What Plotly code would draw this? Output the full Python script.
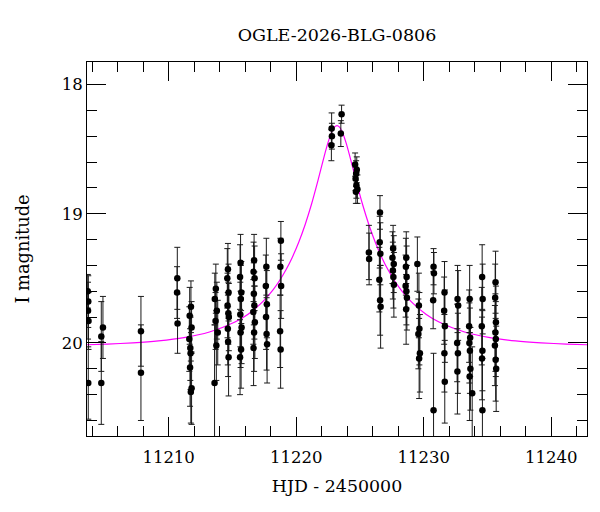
import plotly.graph_objects as go

# ---- observed photometry (HJD-2450000, I mag, error) ----
hjd = [
    11203.66, 11203.70, 11203.68, 11203.72, 11203.70,
    11204.85, 11204.72, 11204.72,
    11207.83, 11207.83,
    11210.68, 11210.66, 11210.70,
    11211.75, 11211.65, 11211.80, 11211.62, 11211.70, 11211.72, 11211.68, 11211.80, 11211.74,
    11213.70, 11213.62, 11213.78, 11213.68, 11213.85, 11213.74, 11213.60,
    11214.65, 11214.60, 11214.70, 11214.62, 11214.68, 11214.72, 11214.64, 11214.66, 11214.70,
    11215.64, 11215.60, 11215.70, 11215.66, 11215.62, 11215.72, 11215.64, 11215.68, 11215.60,
    11216.70, 11216.66, 11216.74, 11216.68, 11216.72, 11216.64, 11216.76, 11216.70, 11216.66,
    11217.66, 11217.62, 11217.70, 11217.64, 11217.68, 11217.72,
    11218.80, 11218.76, 11218.82, 11218.74, 11218.78,
    11222.78, 11222.80, 11222.76,
    11223.56, 11223.50,
    11224.62, 11224.75, 11224.70, 11224.66, 11224.72, 11224.80, 11224.68,
    11225.70, 11225.72,
    11226.57, 11226.55, 11226.60, 11226.52, 11226.58, 11226.62,
    11227.60, 11227.55, 11227.65, 11227.58, 11227.62, 11227.66,
    11228.63, 11228.60, 11228.66, 11228.58, 11228.64, 11228.68, 11228.62,
    11229.50, 11229.62, 11229.66, 11229.58, 11229.70, 11229.64,
    11230.77, 11230.80, 11230.74, 11230.77,
    11231.63, 11231.60, 11231.66, 11231.62, 11231.65,
    11232.65, 11232.70, 11232.62, 11232.68, 11232.64,
    11233.60, 11233.56, 11233.64, 11233.58, 11233.62, 11233.66, 11233.60, 11233.80,
    11234.58, 11234.62, 11234.55, 11234.60, 11234.57, 11234.60,
    11235.63, 11235.60, 11235.66, 11235.62, 11235.65, 11235.58, 11235.64, 11235.68,
]
imag = [
    19.60, 19.68, 19.75, 19.83, 20.31,
    19.88, 19.95, 20.31,
    19.91, 20.23,
    19.50, 19.61, 19.85,
    19.72, 19.79, 19.88, 19.97, 20.04, 20.08, 20.19, 20.35, 20.38,
    19.58, 19.66, 19.75, 19.83, 19.92, 20.02, 20.31,
    19.43, 19.50, 19.61, 19.71, 19.77, 19.80, 19.89, 19.99, 20.11,
    19.38, 19.49, 19.61, 19.66, 19.78, 19.88, 19.92, 20.05, 20.11,
    19.36, 19.45, 19.50, 19.62, 19.71, 19.76, 19.84, 19.92, 20.04,
    19.41, 19.56, 19.70, 19.80, 19.93, 20.01,
    19.21, 19.41, 19.56, 19.91, 20.05,
    18.34, 18.40, 18.47,
    18.23, 18.38,
    18.62, 18.66, 18.69, 18.73, 18.78, 18.81, 18.83,
    19.30, 19.35,
    18.99, 19.22, 19.31, 19.51, 19.67, 19.72,
    19.27, 19.34, 19.39, 19.44, 19.49, 19.55,
    19.34, 19.41, 19.49, 19.56, 19.60, 19.65, 19.74,
    19.39, 19.71, 19.89, 19.93, 20.08, 20.12,
    19.41, 19.46, 19.67, 20.52,
    19.61, 19.75, 19.87, 20.08, 20.30,
    19.66, 19.71, 20.00, 20.08, 20.22,
    19.66, 19.87, 19.96, 20.00, 20.06, 20.20, 20.26, 20.39,
    19.49, 19.66, 19.87, 20.06, 20.12, 20.52,
    19.53, 19.65, 19.84, 19.92, 19.97, 20.02, 20.13, 20.20,
]
ierr = [
    0.13, 0.20, 0.22, 0.22, 0.28,
    0.24, 0.27, 0.32,
    0.27, 0.37,
    0.24, 0.20, 0.23,
    0.20, 0.22, 0.20, 0.25, 0.25, 0.28, 0.30, 0.28, 0.24,
    0.19, 0.20, 0.22, 0.22, 0.25, 0.27, 0.45,
    0.20, 0.23, 0.22, 0.25, 0.24, 0.26, 0.28, 0.27, 0.30,
    0.22, 0.25, 0.24, 0.26, 0.25, 0.28, 0.27, 0.30, 0.29,
    0.20, 0.23, 0.25, 0.24, 0.26, 0.25, 0.28, 0.30, 0.29,
    0.22, 0.24, 0.26, 0.25, 0.28, 0.30,
    0.15, 0.22, 0.25, 0.28, 0.30,
    0.12, 0.10, 0.12,
    0.07, 0.10,
    0.09, 0.10, 0.10, 0.09, 0.10, 0.11, 0.09,
    0.21, 0.20,
    0.13, 0.20, 0.24, 0.25, 0.27, 0.32,
    0.18, 0.20, 0.22, 0.22, 0.24, 0.25,
    0.20, 0.22, 0.24, 0.24, 0.26, 0.25, 0.27,
    0.21, 0.25, 0.28, 0.27, 0.30, 0.31,
    0.14, 0.16, 0.22, 0.44,
    0.24, 0.26, 0.28, 0.30, 0.32,
    0.26, 0.27, 0.30, 0.31, 0.33,
    0.26, 0.28, 0.30, 0.31, 0.33, 0.32, 0.34, 0.36,
    0.25, 0.27, 0.30, 0.31, 0.32, 0.40,
    0.24, 0.26, 0.28, 0.30, 0.29, 0.31, 0.32, 0.33,
]

# ---- model light curve ----
model_t = [11203.2, 11205.2, 11207.2, 11209.2, 11211.2, 11213.2, 11215.2, 11216.2,
           11217.2, 11218.2, 11218.7, 11219.2, 11219.7, 11220.2, 11220.7, 11221.2,
           11221.7, 11222.2, 11222.5, 11222.8, 11223.0, 11223.2, 11223.4, 11223.6,
           11223.9, 11224.2, 11224.7, 11225.2, 11225.7, 11226.2, 11226.7, 11227.2,
           11227.7, 11228.2, 11229.2, 11230.2, 11231.2, 11233.2, 11235.2, 11237.2,
           11239.2, 11241.2, 11243.2]
model_mag = [20.015, 20.009, 19.999, 19.984, 19.959, 19.915, 19.838, 19.779,
             19.698, 19.587, 19.517, 19.434, 19.336, 19.221, 19.085, 18.927,
             18.746, 18.554, 18.448, 18.364, 18.330, 18.318, 18.330, 18.364,
             18.448, 18.554, 18.746, 18.927, 19.085, 19.221, 19.336, 19.434,
             19.517, 19.587, 19.698, 19.779, 19.838, 19.915, 19.959, 19.984,
             19.999, 20.009, 20.015]

x_ticks = [11210, 11220, 11230, 11240]
y_ticks = [18, 19, 20]

FONT = "DejaVu Serif"

fig = go.Figure()
fig.add_trace(go.Scatter(
    x=model_t, y=model_mag, mode="lines",
    line=dict(color="#ff00ff", width=1.2, shape="spline", smoothing=0.6),
    hoverinfo="skip", showlegend=False,
))
fig.add_trace(go.Scatter(
    x=hjd, y=imag, mode="markers",
    marker=dict(color="black", size=6.5),
    error_y=dict(type="data", array=ierr, visible=True,
                 color="#1a1a1a", thickness=1, width=3),
    showlegend=False,
))

axis_common = dict(
    showline=True, linecolor="black", linewidth=1, mirror="ticks",
    ticks="inside", ticklen=19, tickwidth=1, tickcolor="black",
    showgrid=False, zeroline=False, automargin=False,
    tickfont=dict(family=FONT, size=16.5, color="black"),
)

fig.update_xaxes(
    range=[11203.6, 11242.8], tickvals=x_ticks,
    ticktext=[str(v) for v in x_ticks],
    ticklabelstandoff=6,
    minor=dict(dtick=2, tick0=11210, ticks="inside", ticklen=10, tickcolor="black", showgrid=False),
    title=dict(text="HJD - 2450000", font=dict(family=FONT, size=17.4, color="black"), standoff=14),
    **axis_common,
)
fig.update_yaxes(
    range=[20.72, 17.826], tickvals=y_ticks,
    ticktext=[str(v) for v in y_ticks],
    minor=dict(dtick=0.2, tick0=18, ticks="inside", ticklen=10, tickcolor="black", showgrid=False),
    title=dict(text="I magnitude", font=dict(family=FONT, size=17.8, color="black"), standoff=27),
    **axis_common,
)

fig.update_layout(
    width=600, height=512,
    margin=dict(l=87, r=13, t=62, b=76, autoexpand=False),
    paper_bgcolor="white", plot_bgcolor="white",
    title=dict(text="OGLE-2026-BLG-0806", x=0.5, xref="paper",
               y=1 - 35 / 512, yref="container", yanchor="middle",
               font=dict(family=FONT, size=17.5, color="black")),
    font=dict(family=FONT, color="black"),
)

fig.write_html("out.html", config={"displayModeBar": False},
               post_script="document.body.style.margin='0';")
